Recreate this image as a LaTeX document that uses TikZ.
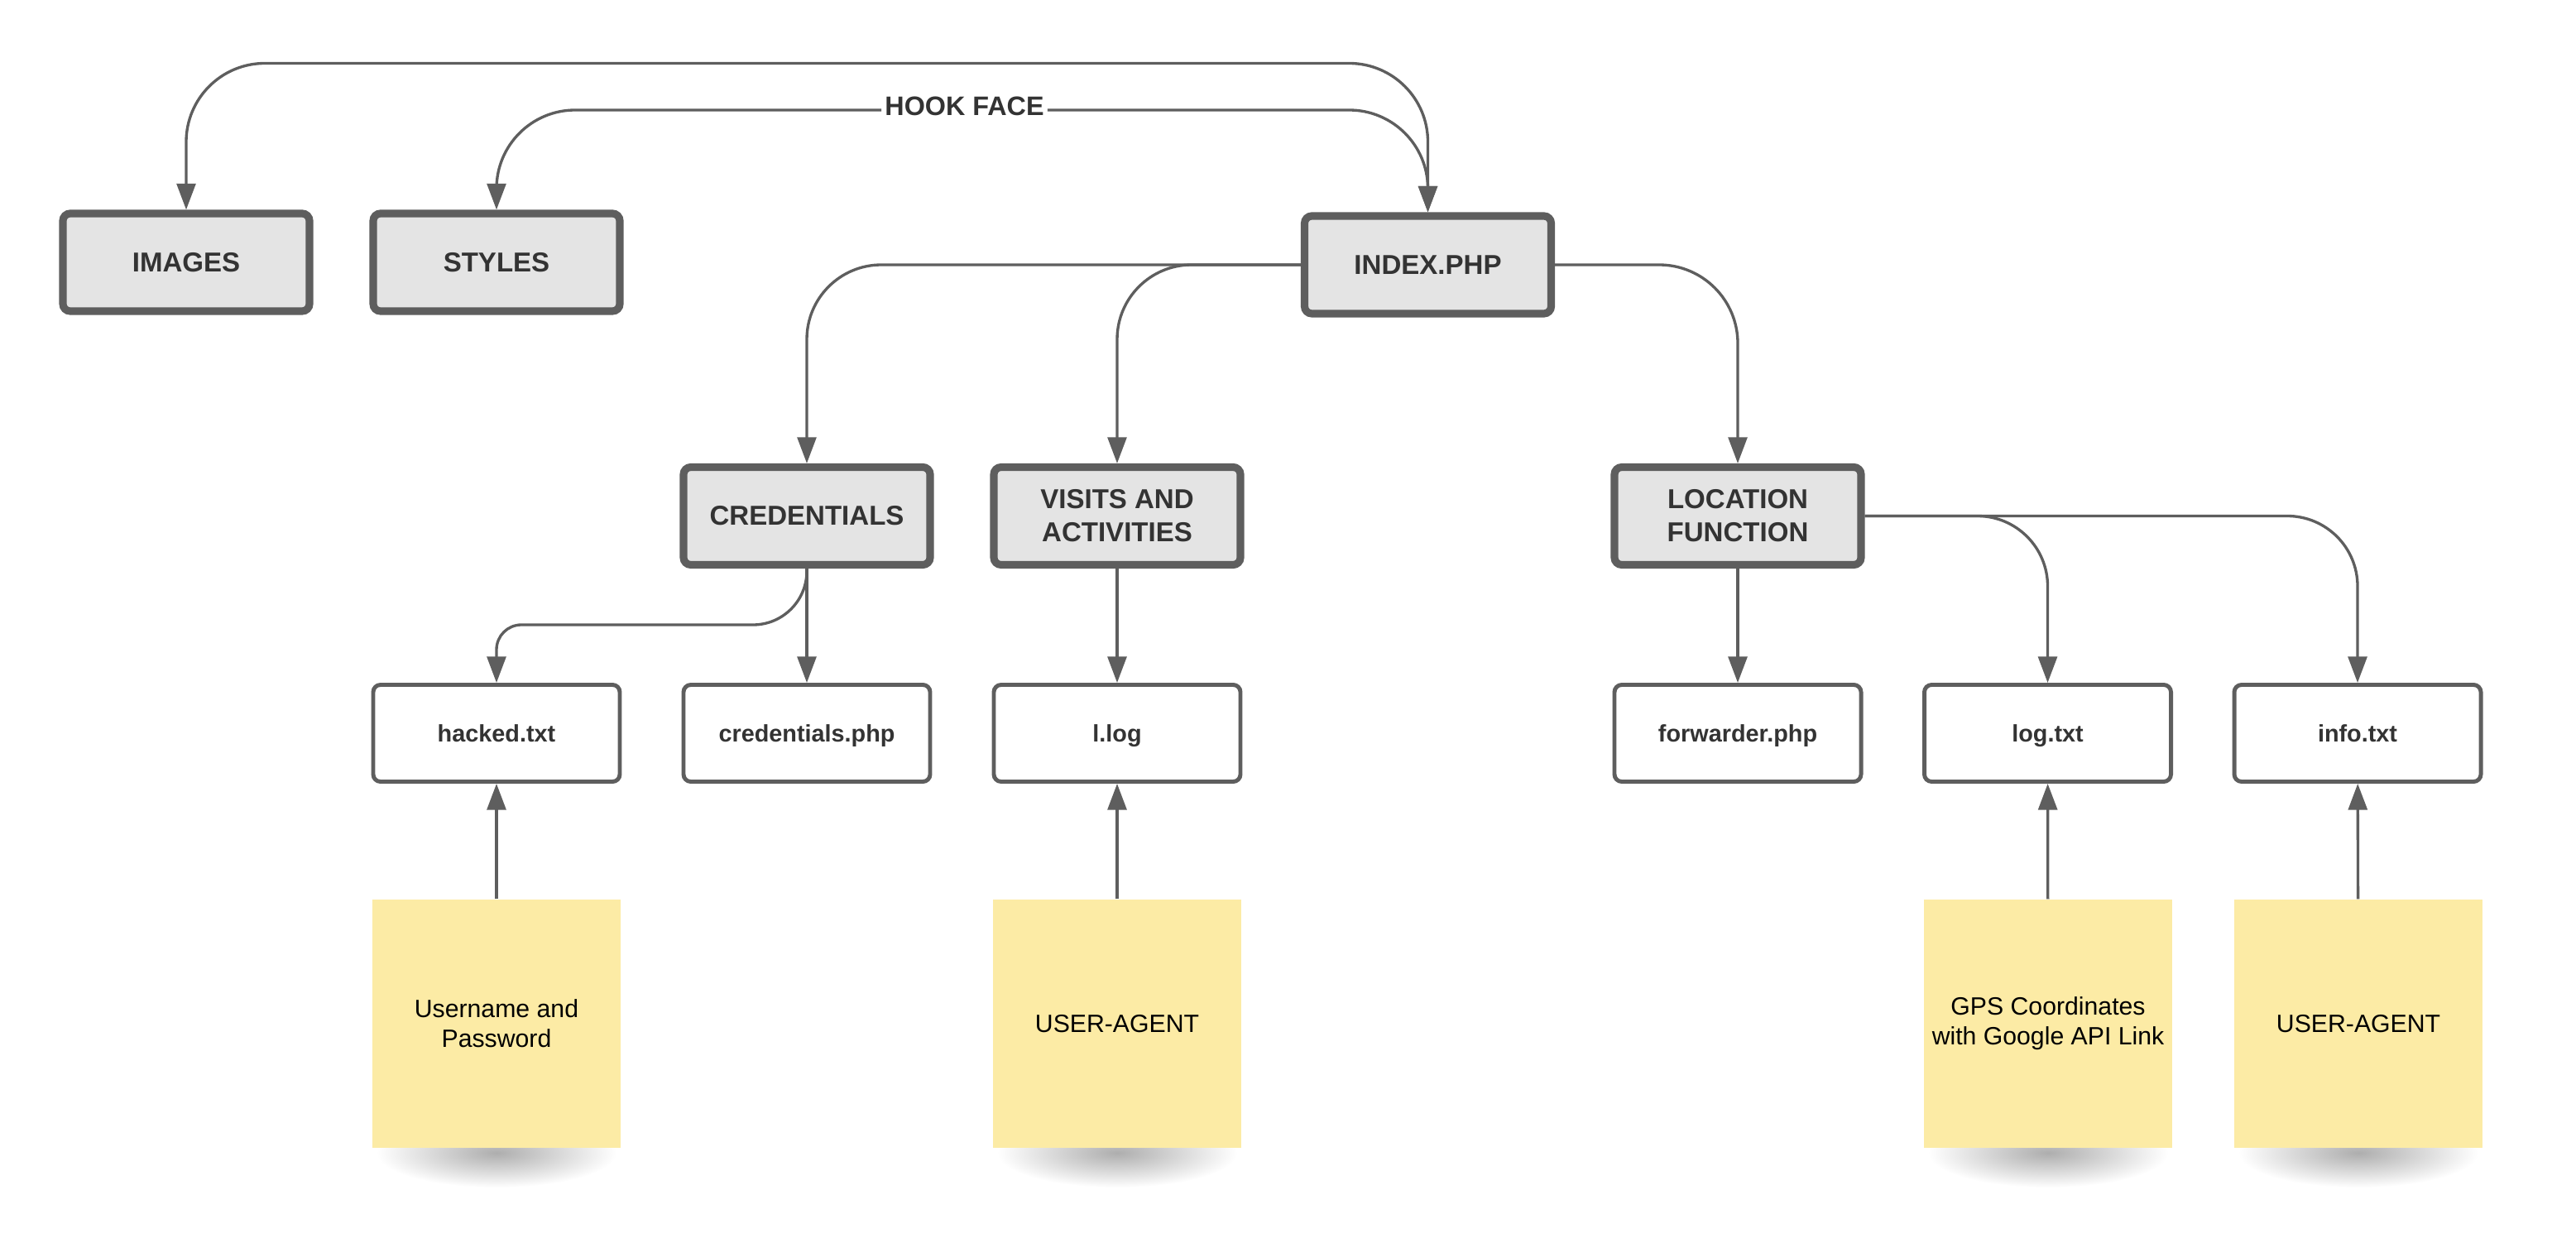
\documentclass[tikz,border=0pt]{standalone}
\usepackage{fontspec}
\setmainfont{Liberation Sans}
\usetikzlibrary{arrows.meta}
\definecolor{edge}{HTML}{5E5E5E}
\definecolor{boxfill}{HTML}{E4E4E4}
\definecolor{txt}{HTML}{333333}
\definecolor{sticky}{HTML}{FCEBA5}
\begin{document}
\begin{tikzpicture}[
  folder/.style={draw=edge,fill=boxfill,line width=2.6pt,rounded corners=2.5pt,minimum width=2.98cm,minimum height=1.18cm,inner sep=0pt,align=center,text=txt,font=\fontsize{9.4}{11.4}\selectfont\bfseries},
  file/.style={draw=edge,fill=white,line width=1.4pt,rounded corners=2.5pt,minimum width=2.98cm,minimum height=1.17cm,inner sep=0pt,text height=1.6ex,text depth=0.5ex,text=txt,font=\fontsize{8.2}{10}\selectfont\bfseries},
  note/.style={fill=sticky,minimum width=3cm,minimum height=3cm,inner sep=0pt,align=center,font=\fontsize{8.6}{10.2}\selectfont},
  link/.style={draw=edge,line width=0.95pt,-{Triangle[length=9pt,width=6.5pt]}},
  both/.style={link,{Triangle[length=9pt,width=6.5pt]}-{Triangle[length=9pt,width=6.5pt]}},
  hook/.style={inner sep=1pt,text=txt,font=\fontsize{9.2}{11}\selectfont\bfseries},
  shadow/.style={inner color=black!32,outer color=white},
]
\useasboundingbox (0,0) rectangle (31.13,-15.02);

\node[folder] (images) at (2.25,-3.17) {IMAGES};
\node[folder] (styles) at (6.00,-3.17) {STYLES};
\node[folder] (index) at (17.255,-3.20) {INDEX.PHP};
\node[folder] (cred) at (9.75,-6.235) {CREDENTIALS};
\node[folder] (visits) at (13.50,-6.235) {VISITS AND\\ACTIVITIES};
\node[folder] (location) at (21.00,-6.235) {LOCATION\\FUNCTION};

\node[file] (hacked) at (6.00,-8.86) {hacked.txt};
\node[file] (credphp) at (9.75,-8.86) {credentials.php};
\node[file] (llog) at (13.50,-8.86) {l.log};
\node[file] (forwarder) at (21.00,-8.86) {forwarder.php};
\node[file] (logtxt) at (24.745,-8.86) {log.txt};
\node[file] (infotxt) at (28.49,-8.86) {info.txt};

\foreach \x in {6.00,13.50,24.75,28.50}
  \shade[shadow] (\x,-13.93) ellipse (1.45 and 0.42);
\node[note] (userpass) at (6.00,-12.37) {Username and\\Password};
\node[note] (agenta) at (13.50,-12.37) {USER-AGENT};
\node[note] (gps) at (24.75,-12.37) {GPS Coordinates\\with Google API Link};
\node[note] (agentb) at (28.50,-12.37) {USER-AGENT};

\coordinate (hooka) at (0,-0.765);
\coordinate (hookb) at (0,-1.33);
\coordinate (credrow) at (0,-7.55);
\node[hook] (hookface) at (11.655,-1.28) {HOOK FACE};

\draw[both,rounded corners=0.95cm] (images.north) -- (images.north |- hooka) -- (index.north |- hooka) -- (index.north);
\draw[link,rounded corners=0.95cm] (hookface.west |- hookb) -- (styles.north |- hookb) -- (styles.north);
\draw[link,rounded corners=0.95cm] (hookface.east |- hookb) -- (index.north |- hookb) -- (index.north);

\draw[link,rounded corners=0.9cm] (index.west) -| (cred.north);
\draw[link,rounded corners=0.9cm] (index.west) -| (visits.north);
\draw[link,rounded corners=0.95cm] (index.east) -| (location.north);

\draw[link] (cred.south) [rounded corners=0.65cm] -- (cred.south |- credrow) [rounded corners=0.3cm] -- (hacked.north |- credrow) -- (hacked.north);
\draw[link] (cred) -- (credphp);
\draw[link] (visits) -- (llog);
\draw[link] (location) -- (forwarder);
\draw[link,rounded corners=0.85cm] (location.east) -| (logtxt.north);
\draw[link,rounded corners=0.85cm] (location.east) -| (infotxt.north);

\draw[link] (userpass) -- (hacked);
\draw[link] (agenta) -- (llog);
\draw[link] (gps) -- (logtxt);
\draw[link] (agentb) -- (infotxt);
\end{tikzpicture}
\end{document}
